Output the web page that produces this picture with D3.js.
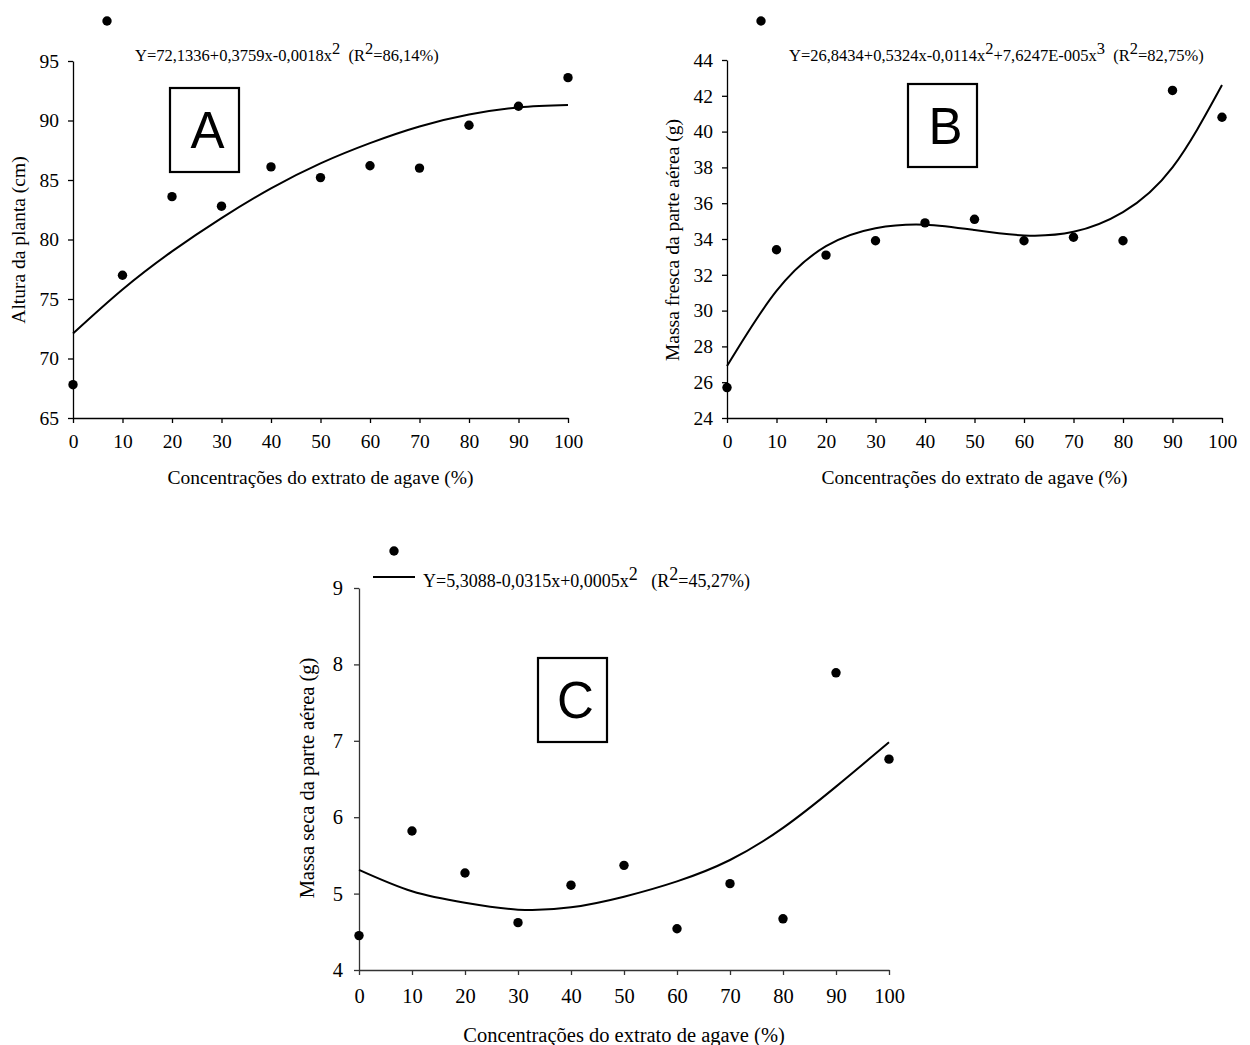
<!DOCTYPE html>
<html>
<head>
<meta charset="utf-8">
<script src="https://cdn.jsdelivr.net/npm/d3@7"></script>
<style>
body { margin:0; background:#fff; }
svg { display:block; }
text { font-family:"Liberation Serif", "Times New Roman", serif; fill:#000; }
.box text { font-family:"Liberation Sans", Arial, sans-serif; }
</style>
</head>
<body>
<svg></svg>
<script>
// doses of agave extract (%)
var doses = [0, 10, 20, 30, 40, 50, 60, 70, 80, 90, 100]

// A - plant height (cm)
var alturaObs = [67.8, 77.0, 83.6, 82.8, 86.1, 85.2, 86.2, 86.0, 89.6, 91.2, 93.6]
var alturaFit = [72.1, 75.8, 79.0, 81.8, 84.3, 86.4, 88.1, 89.5, 90.5, 91.1, 91.3]
var alturaTicks = [65, 70, 75, 80, 85, 90, 95]

// B - fresh mass of aerial part (g)
var frescaObs = [25.7, 33.4, 33.1, 33.9, 34.9, 35.1, 33.9, 34.1, 33.9, 42.3, 40.8]
var frescaFit = [26.9, 31.1, 33.6, 34.6, 34.8, 34.5, 34.2, 34.4, 35.5, 38.0, 42.6]
var frescaTicks = [24, 26, 28, 30, 32, 34, 36, 38, 40, 42, 44]

// C - dry mass of aerial part (g)
var secaObs = [4.45, 5.82, 5.27, 4.62, 5.11, 5.37, 4.54, 5.13, 4.67, 7.89, 6.76]
var secaFit = [5.31, 5.03, 4.88, 4.79, 4.82, 4.96, 5.16, 5.44, 5.86, 6.40, 6.98]
var secaTicks = [4, 5, 6, 7, 8, 9]

var xTitle = "Concentrações do extrato de agave (%)"

var svg = d3.select("svg")
    .attr("width", 1250)
    .attr("height", 1045)

var drawPanel = function(p)
{
    var g = svg.append("g").classed("panel", true)

    var xScale = d3.scaleLinear()
        .domain([0, 100])
        .range([p.left, p.right])

    var yScale = d3.scaleLinear()
        .domain(d3.extent(p.ticks))
        .range([p.bottom, p.top])

    g.append("g")
        .attr("transform", "translate(0," + p.bottom + ")")
        .call(d3.axisBottom(xScale).tickValues(doses).tickFormat(d3.format("d"))
            .tickSize(5).tickSizeOuter(0).tickPadding(p.xPad))

    g.append("g")
        .attr("transform", "translate(" + p.left + ",0)")
        .call(d3.axisLeft(yScale).tickValues(p.ticks).tickFormat(d3.format("d"))
            .tickSize(5).tickSizeOuter(0).tickPadding(p.yPad))

    g.selectAll(".tick text")
        .style("font-size", p.fontSize + "px")
        .style("font-family", "Liberation Serif")
        .attr("fill", p.ink)
    g.selectAll(".domain, .tick line")
        .attr("stroke", p.axisInk)
        .attr("stroke-width", 1.3)

    // fitted curve
    var lineGenerator = d3.line()
        .x(function(d, i) { return xScale(doses[i]) })
        .y(function(d) { return yScale(d) })
        .curve(d3.curveNatural)

    g.append("path")
        .datum(p.fit)
        .attr("d", lineGenerator)
        .attr("fill", "none")
        .attr("stroke", "#000")
        .attr("stroke-width", 2)

    // observed values
    g.selectAll("circle.obs")
        .data(p.obs)
        .enter()
        .append("circle")
        .classed("obs", true)
        .attr("cx", function(d, i) { return xScale(doses[i]) })
        .attr("cy", function(d) { return yScale(d) })
        .attr("r", 4.7)
        .attr("fill", "#000")

    // axis titles
    g.append("text")
        .attr("x", (p.left + p.right) / 2)
        .attr("y", p.bottom + p.xTitleOff)
        .attr("text-anchor", "middle")
        .style("font-size", p.fontSize + "px")
        .attr("fill", p.ink)
        .text(xTitle)

    g.append("text")
        .attr("transform", "translate(" + p.yTitleX + "," + p.yTitleY + ") rotate(-90)")
        .attr("text-anchor", "middle")
        .attr("dy", "0.35em")
        .style("font-size", p.fontSize + "px")
        .attr("fill", p.ink)
        .text(p.yTitle)

    // legend: point marker, optional line marker, equation
    g.append("circle")
        .attr("cx", p.legendDot[0])
        .attr("cy", p.legendDot[1])
        .attr("r", 4.7)
        .attr("fill", "#000")

    if (p.legendLine)
    {
        g.append("line")
            .attr("x1", p.legendLine[0])
            .attr("x2", p.legendLine[1])
            .attr("y1", p.legendLine[2])
            .attr("y2", p.legendLine[2])
            .attr("stroke", "#000")
            .attr("stroke-width", 2.2)
    }

    var eq = g.append("text")
        .attr("x", p.eqPos[0])
        .attr("y", p.eqPos[1])
        .style("font-size", p.eqSize + "px")
        .style("white-space", "pre")
        .attr("fill", p.ink)

    // parts alternate: normal text, superscript, normal text ...
    var raised = false
    p.equation.forEach(function(part)
    {
        var span = eq.append("tspan")
        if (part.sup)
        {
            span.attr("dy", -7).text(part.sup)
            raised = true
        }
        else
        {
            if (raised) span.attr("dy", 7)
            raised = false
            span.text(part.t)
        }
    })

    // panel letter
    var box = g.append("g").classed("box", true)
    box.append("rect")
        .attr("x", p.box[0])
        .attr("y", p.box[1])
        .attr("width", p.box[2])
        .attr("height", p.box[3])
        .attr("fill", "none")
        .attr("stroke", "#000")
        .attr("stroke-width", 2.2)
    box.append("text")
        .attr("x", p.box[0] + p.box[2] / 2 + 3)
        .attr("y", p.box[1] + p.box[3] / 2)
        .attr("dy", "0.36em")
        .attr("text-anchor", "middle")
        .style("font-size", "51px")
        .text(p.letter)
}

drawPanel({
    left:73, right:568, top:61, bottom:418,
    obs:alturaObs, fit:alturaFit, ticks:alturaTicks,
    fontSize:19.5, xPad:11, yPad:9, xTitleOff:66,
    yTitle:"Altura da planta (cm)", yTitleX:18, yTitleY:240,
    legendDot:[107, 21], eqPos:[135, 61], eqSize:16.5,
    equation:[{t:"Y=72,1336+0,3759x-0,0018x"}, {sup:"2"}, {t:"  (R"}, {sup:"2"}, {t:"=86,14%)"}],
    box:[170, 88, 69, 84], letter:"A",
    ink:"#000", axisInk:"#000"
})

drawPanel({
    left:727, right:1222, top:60, bottom:418,
    obs:frescaObs, fit:frescaFit, ticks:frescaTicks,
    fontSize:19.5, xPad:11, yPad:9, xTitleOff:66,
    yTitle:"Massa fresca da parte aérea (g)", yTitleX:672, yTitleY:240,
    legendDot:[761, 21], eqPos:[789, 61], eqSize:16.5,
    equation:[{t:"Y=26,8434+0,5324x-0,0114x"}, {sup:"2"}, {t:"+7,6247E-005x"}, {sup:"3"}, {t:"  (R"}, {sup:"2"}, {t:"=82,75%)"}],
    box:[908, 84, 69, 83], letter:"B",
    ink:"#000", axisInk:"#000"
})

drawPanel({
    left:359, right:889, top:588, bottom:970,
    obs:secaObs, fit:secaFit, ticks:secaTicks,
    fontSize:20.5, xPad:13, yPad:11, xTitleOff:72,
    yTitle:"Massa seca da parte aérea (g)", yTitleX:307, yTitleY:778,
    legendDot:[394, 551], legendLine:[373, 415, 577], eqPos:[423, 587], eqSize:18,
    equation:[{t:"Y=5,3088-0,0315x+0,0005x"}, {sup:"2"}, {t:"   (R"}, {sup:"2"}, {t:"=45,27%)"}],
    box:[538, 658, 69, 84], letter:"C",
    ink:"#1a1a1a", axisInk:"#333"
})
</script>
</body>
</html>
